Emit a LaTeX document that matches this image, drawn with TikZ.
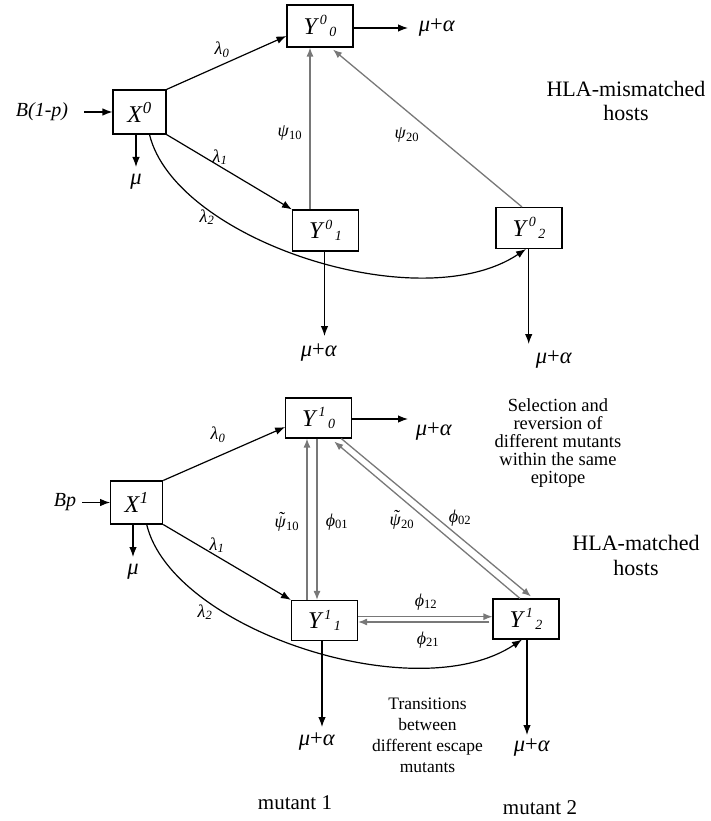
\documentclass[tikz,border=0pt]{standalone}
\usepackage{fontspec}
\setmainfont{Liberation Serif}
\usetikzlibrary{arrows.meta}
% compartment label: letter with staggered super- and subscript
\newcommand{\Comp}[3]{\textit{#1}\kern1pt\raisebox{0.40em}{\fontsize{14}{14}\selectfont\itshape #2}\kern2.5pt\raisebox{-0.08em}{\fontsize{14}{14}\selectfont\itshape #3}}
\newcommand{\Rate}[2]{\textit{#1}\textsubscript{#2}}
% psi carrying a tilde accent
\newcommand{\tpsi}{\textit{\accent"02DC ψ}}
\newcommand{\MuAl}{\textit{μ}+\textit{α}}
\definecolor{flowgray}{RGB}{120,120,120}
\begin{document}
\begin{tikzpicture}[x=1pt,y=-1pt,
  box/.style={draw, line width=1.1pt, minimum width=66pt, minimum height=41pt, inner sep=0pt, font=\fontsize{24}{24}\selectfont},
  arr/.style={line width=1.2pt, -{Latex[length=10pt,width=7.5pt]}},
  garr/.style={draw=flowgray, line width=1.3pt, -{Latex[length=9pt,width=7pt]}, color=flowgray},
  lab/.style={inner sep=0pt, font=\fontsize{18}{18}\selectfont},
  rlab/.style={inner sep=0pt, font=\fontsize{20}{20}\selectfont},
  mlab/.style={inner sep=0pt, font=\fontsize{22.5}{22}\selectfont},
  txt/.style={inner sep=0pt, align=center}]
\useasboundingbox (0,0) rectangle (711,821);

% ---------- HLA-mismatched hosts ----------
\node[box, minimum width=53pt, minimum height=44pt] (X0) at (139.5,112) {\textit{X}\textsuperscript{\itshape 0}};
\node[box, minimum height=42pt] (Y00) at (320,26) {\Comp{Y}{0}{0}};
\node[box] (Y01) at (325.5,230.5) {\Comp{Y}{0}{1}};
\node[box] (Y02) at (529,228) {\Comp{Y}{0}{2}};

\node[rlab] (Bin0) at (42,112) {\textit{B(1-p)}};
\coordinate (b0s) at (84,112);
\draw[arr] (b0s) -- (X0.west);

\coordinate (m0e) at (136,167);
\node[mlab] (mu0) at (136,182) {\textit{μ}};
\draw[arr] (X0.south -| m0e) -- (m0e);

\draw[arr] (X0.north east) -- ([yshift=-10pt]Y00.west);
\node[lab] at (222,50) {\Rate{λ}{\itshape 0}};
\draw[arr] (X0.south east) -- (Y01.north west);
\node[lab] at (220,157) {\Rate{λ}{\itshape 1}};
\draw[arr] ([xshift=10pt]X0.south) .. controls (175,240) and (420,320) .. ([xshift=-3pt]Y02.south);
\node[lab] at (207,217) {\Rate{λ}{\itshape 2}};

\coordinate (a00) at (408,28);
\draw[arr] (Y00.east |- a00) -- (a00);
\node[mlab] at (437,28) {\MuAl};
\coordinate (a01) at (324.5,336);
\draw[arr] (Y01.south -| a01) -- (a01);
\node[mlab] at (319,353) {\MuAl};
\coordinate (a02) at (528.7,344);
\draw[arr] (Y02.south -| a02) -- (a02);
\node[mlab] at (554,360) {\MuAl};

\draw[garr] ([xshift=-15.5pt]Y01.north) -- ([xshift=-15.5pt]Y01.north |- Y00.south);
\node[lab] at (290,133) {\Rate{ψ}{10}};
\draw[garr] ([xshift=-7pt]Y02.north) -- ([xshift=13pt,yshift=-2pt]Y00.south);
\node[lab] at (407,135) {\Rate{ψ}{20}};

\node[txt, font=\fontsize{22}{24}\selectfont] at (626,101) {HLA-mismatched\\hosts};

% ---------- HLA-matched hosts ----------
\node[box, minimum width=52pt, minimum height=43pt] (X1) at (136.7,502.5) {\textit{X}\textsuperscript{\itshape 1}};
\node[box, minimum height=40pt] (Y10) at (318.7,418) {\Comp{Y}{1}{0}};
\node[box, minimum height=40pt] (Y11) at (324.5,620.5) {\Comp{Y}{1}{1}};
\node[box, minimum height=40pt] (Y12) at (526,619) {\Comp{Y}{1}{2}};

\node[rlab] (Bin1) at (65,502) {\textit{Bp}};
\coordinate (b1s) at (82,502.5);
\draw[arr] (b1s) -- (X1.west);

\coordinate (m1e) at (133,557);
\node[mlab] (mu1) at (133,572) {\textit{μ}};
\draw[arr] (X1.south -| m1e) -- (m1e);

\draw[arr] (X1.north east) -- ([yshift=-9pt]Y10.west);
\node[lab] at (218,435) {\Rate{λ}{\itshape 0}};
\draw[arr] (X1.south east) -- (Y11.north west);
\node[lab] at (217,545) {\Rate{λ}{\itshape 1}};
\draw[arr] ([xshift=10pt]X1.south) .. controls (172,630) and (417,710) .. ([xshift=-4pt]Y12.south);
\node[lab] at (205,612) {\Rate{λ}{\itshape 2}};

\coordinate (a10) at (408,419);
\draw[arr] (Y10.east |- a10) -- (a10);
\node[mlab] at (434,432) {\MuAl};
\coordinate (a11) at (322,727);
\draw[arr] (Y11.south -| a11) -- (a11);
\node[mlab] at (317,742) {\MuAl};
\coordinate (a12) at (527,735);
\draw[arr] (Y12.south -| a12) -- (a12);
\node[mlab] at (532,748) {\MuAl};

\draw[garr] ([xshift=-17.5pt]Y11.north) -- ([xshift=-17.5pt]Y11.north |- Y10.south);
\draw[garr] ([xshift=-7.5pt]Y11.north |- Y10.south) -- ([xshift=-7.5pt]Y11.north);
\node[lab] at (287,522) {\tpsi\textsubscript{10}};
\node[lab] at (337,522) {\Rate{ϕ}{01}};

\draw[garr] ([xshift=-6pt]Y12.north) -- ([xshift=-18pt,yshift=-3pt]Y10.south east);
\draw[garr] ([xshift=-11pt]Y10.south east) -- ([xshift=5pt,yshift=2pt]Y12.north);
\node[lab] at (402,520) {\tpsi\textsubscript{20}};
\node[lab] at (460,518) {\Rate{ϕ}{02}};

\draw[garr] ([yshift=3.8pt]Y11.east) -- ([yshift=3.8pt]Y11.east -| Y12.west);
\draw[garr] ([xshift=-3pt,yshift=-1.5pt]Y11.east -| Y12.west) -- ([yshift=-1.5pt]Y11.east);
\node[lab] at (426,602) {\Rate{ϕ}{12}};
\node[lab] at (428,640) {\Rate{ϕ}{21}};

\node[txt, font=\fontsize{22}{25}\selectfont] at (636,555) {HLA-matched\\hosts};
\node[txt, font=\fontsize{18.5}{18.2}\selectfont] at (558,443) {Selection and\\reversion of\\different mutants\\within the same\\epitope};
\node[txt, font=\fontsize{17.5}{21}\selectfont] at (427.5,735) {Transitions\\between\\different escape\\mutants};

\node[txt, font=\fontsize{21}{21}\selectfont] at (295,803) {mutant 1};
\node[txt, font=\fontsize{21}{21}\selectfont] at (540,808) {mutant 2};
\end{tikzpicture}
\end{document}
